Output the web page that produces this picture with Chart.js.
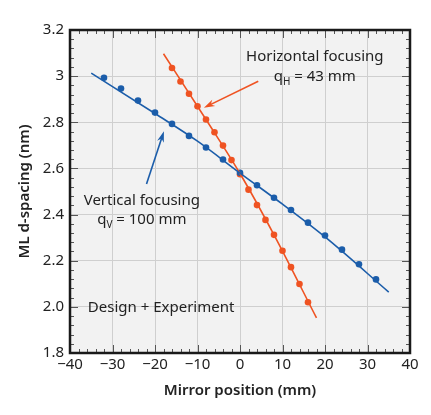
<!DOCTYPE html>
<html lang="en">
<head>
  <meta charset="UTF-8">
  <title>ML d-spacing vs mirror position</title>
  <script src="https://cdn.jsdelivr.net/npm/chart.js"></script>
  <style>
    html, body {
      margin: 0;
      padding: 0;
      background: #fff;
    }
    #wrap {
      width: 431px;
      height: 415px;
    }
  </style>
</head>
<body>

<div id="wrap"><canvas id="dspacingChart"></canvas></div>

<script>
  // measured points (mirror position in mm, d-spacing in nm)
  const verticalX = [-32, -28, -24, -20, -16, -12, -8, -4, 0, 4, 8, 12, 16, 20, 24, 28, 32];
  const verticalY = [2.993, 2.946, 2.894, 2.842, 2.793, 2.741, 2.691, 2.639, 2.581,
                     2.527, 2.473, 2.420, 2.365, 2.309, 2.248, 2.185, 2.119];
  const horizontalX = [-16, -14, -12, -10, -8, -6, -4, -2, 0, 2, 4, 6, 8, 10, 12, 14, 16];
  const horizontalY = [3.035, 2.977, 2.924, 2.869, 2.812, 2.757, 2.699, 2.636, 2.575,
                       2.508, 2.441, 2.377, 2.312, 2.243, 2.172, 2.099, 2.020];

  // design curves
  const verticalDesignX = [-35, -20, -10, 0, 10, 20, 35];
  const verticalDesignY = [3.013, 2.838, 2.718, 2.580, 2.445, 2.303, 2.064];
  const horizontalDesignX = [-18, -8, 0, 8, 18];
  const horizontalDesignY = [3.097, 2.812, 2.578, 2.312, 1.952];

  const xTickLabels = ["\u221240", "\u221230", "\u221220", "\u221210", "0", "10", "20", "30", "40"];
  const yTickLabels = ["1.8", "2.0", "2.2", "2.4", "2.6", "2.8", "3", "3.2"];

  const BLUE = "#1b5daa";
  const ORANGE = "#ef5322";
  const INK = "#222";

  function pairs(xs, ys) {
    return xs.map((x, i) => ({ x: x, y: ys[i] }));
  }

  function arrow(ctx, x1, y1, x2, y2, color) {
    const ang = Math.atan2(y2 - y1, x2 - x1);
    const len = 11, half = 3.5;
    ctx.strokeStyle = color;
    ctx.fillStyle = color;
    ctx.lineWidth = 1.6;
    ctx.beginPath();
    ctx.moveTo(x1, y1);
    ctx.lineTo(x2 - Math.cos(ang) * len * 0.6, y2 - Math.sin(ang) * len * 0.6);
    ctx.stroke();
    ctx.beginPath();
    ctx.moveTo(x2, y2);
    ctx.lineTo(x2 - Math.cos(ang) * len - Math.sin(ang) * half, y2 - Math.sin(ang) * len + Math.cos(ang) * half);
    ctx.lineTo(x2 - Math.cos(ang) * len * 0.7, y2 - Math.sin(ang) * len * 0.7);
    ctx.lineTo(x2 - Math.cos(ang) * len + Math.sin(ang) * half, y2 - Math.sin(ang) * len - Math.cos(ang) * half);
    ctx.closePath();
    ctx.fill();
  }

  // q with subscript, centred on cx
  function qLabel(ctx, cx, cy, sub, rest) {
    const big = "15px 'Noto Sans'", small = "10px 'Noto Sans'";
    ctx.font = big;
    const wq = ctx.measureText("q").width;
    const wr = ctx.measureText(rest).width;
    ctx.font = small;
    const ws = ctx.measureText(sub).width;
    let x = cx - (wq + ws + wr) / 2;
    ctx.textAlign = "left";
    ctx.textBaseline = "middle";
    ctx.fillStyle = INK;
    ctx.font = big;
    ctx.fillText("q", x, cy);
    ctx.font = small;
    ctx.fillText(sub, x + wq, cy + 5);
    ctx.font = big;
    ctx.fillText(rest, x + wq + ws, cy);
  }

  const framePlugin = {
    id: "frame",
    beforeDraw(chart) {
      const a = chart.chartArea, ctx = chart.ctx;
      ctx.save();
      ctx.fillStyle = "#f2f2f2";
      ctx.fillRect(a.left, a.top, a.right - a.left, a.bottom - a.top);
      ctx.restore();
    },
    afterDraw(chart) {
      const a = chart.chartArea, ctx = chart.ctx;
      const xs = chart.scales.x, ys = chart.scales.y;
      ctx.save();
      // minor and major ticks on all four sides
      ctx.strokeStyle = "#555";
      ctx.lineWidth = 1;
      for (let v = -40; v <= 40; v += 2) {
        const px = Math.round(xs.getPixelForValue(v)) + 0.5;
        const l = (v % 10 === 0) ? 8 : 4;
        ctx.beginPath();
        ctx.moveTo(px, a.bottom); ctx.lineTo(px, a.bottom - l);
        ctx.moveTo(px, a.top); ctx.lineTo(px, a.top + l);
        ctx.stroke();
      }
      for (let k = 0; k <= 35; k++) {
        const v = 1.8 + k * 0.04;
        const py = Math.round(ys.getPixelForValue(v)) + 0.5;
        const l = (k % 5 === 0) ? 8 : 4;
        ctx.beginPath();
        ctx.moveTo(a.left, py); ctx.lineTo(a.left + l, py);
        ctx.moveTo(a.right, py); ctx.lineTo(a.right - l, py);
        ctx.stroke();
      }
      // frame
      ctx.strokeStyle = "#1a1a1a";
      ctx.lineWidth = 2.5;
      ctx.strokeRect(a.left, a.top, a.right - a.left, a.bottom - a.top);

      // annotations
      ctx.fillStyle = INK;
      ctx.font = "15px 'Noto Sans'";
      ctx.textAlign = "center";
      ctx.textBaseline = "middle";
      ctx.fillText("Horizontal focusing", xs.getPixelForValue(17.6), ys.getPixelForValue(3.082));
      qLabel(ctx, xs.getPixelForValue(17.6), ys.getPixelForValue(2.996), "H", " = 43 mm");
      ctx.font = "15px 'Noto Sans'";
      ctx.textAlign = "center";
      ctx.fillText("Vertical focusing", xs.getPixelForValue(-23.1), ys.getPixelForValue(2.46));
      qLabel(ctx, xs.getPixelForValue(-23.1), ys.getPixelForValue(2.377), "V", " = 100 mm");
      ctx.font = "15px 'Noto Sans'";
      ctx.textAlign = "left";
      ctx.fillText("Design + Experiment", xs.getPixelForValue(-35.8), ys.getPixelForValue(1.998));

      arrow(ctx, xs.getPixelForValue(4.3), ys.getPixelForValue(2.978),
                 xs.getPixelForValue(-8.5), ys.getPixelForValue(2.863), ORANGE);
      arrow(ctx, xs.getPixelForValue(-22.0), ys.getPixelForValue(2.532),
                 xs.getPixelForValue(-17.9), ys.getPixelForValue(2.761), BLUE);
      ctx.restore();
    }
  };

  const ctx = document.getElementById("dspacingChart").getContext("2d");
  const chart = new Chart(ctx, {
    type: "scatter",
    data: {
      datasets: [
        {
          label: "Vertical design",
          data: pairs(verticalDesignX, verticalDesignY),
          showLine: true,
          borderColor: BLUE,
          borderWidth: 1.6,
          pointRadius: 0,
          cubicInterpolationMode: "monotone"
        },
        {
          label: "Horizontal design",
          data: pairs(horizontalDesignX, horizontalDesignY),
          showLine: true,
          borderColor: ORANGE,
          borderWidth: 1.6,
          pointRadius: 0,
          cubicInterpolationMode: "monotone"
        },
        {
          label: "Vertical experiment",
          data: pairs(verticalX, verticalY),
          pointRadius: 3.3,
          pointBackgroundColor: BLUE,
          pointBorderWidth: 0
        },
        {
          label: "Horizontal experiment",
          data: pairs(horizontalX, horizontalY),
          pointRadius: 3.3,
          pointBackgroundColor: ORANGE,
          pointBorderWidth: 0
        }
      ]
    },
    options: {
      responsive: true,
      maintainAspectRatio: false,
      animation: false,
      layout: {
        padding: { top: 30, right: 21, left: 0, bottom: 0 }
      },
      plugins: {
        legend: { display: false },
        tooltip: { enabled: false }
      },
      scales: {
        x: {
          type: "linear",
          min: -40,
          max: 40,
          afterFit: function(scale) { scale.height = 62; },
          ticks: {
            stepSize: 10,
            color: INK,
            padding: 3,
            maxRotation: 0,
            font: { family: "'Noto Sans'", size: 15 },
            callback: function(value, index) { return xTickLabels[index]; }
          },
          grid: {
            color: "#cfcfcf",
            drawTicks: false
          },
          border: { display: false },
          title: {
            display: true,
            text: "Mirror position (mm)",
            color: INK,
            padding: { top: 0, bottom: 15 },
            font: { family: "'Noto Sans'", size: 15, weight: "600" }
          }
        },
        y: {
          type: "linear",
          min: 1.8,
          max: 3.2,
          afterFit: function(scale) { scale.width = 70; },
          ticks: {
            stepSize: 0.2,
            color: INK,
            padding: 6,
            font: { family: "'Noto Sans'", size: 15 },
            callback: function(value, index) { return yTickLabels[index]; }
          },
          grid: {
            color: "#cfcfcf",
            drawTicks: false
          },
          border: { display: false },
          title: {
            display: true,
            text: "ML d-spacing (nm)",
            color: INK,
            padding: { top: 16, bottom: 0 },
            font: { family: "'Noto Sans'", size: 15, weight: "600" }
          }
        }
      }
    },
    plugins: [framePlugin]
  });
</script>

</body>
</html>
